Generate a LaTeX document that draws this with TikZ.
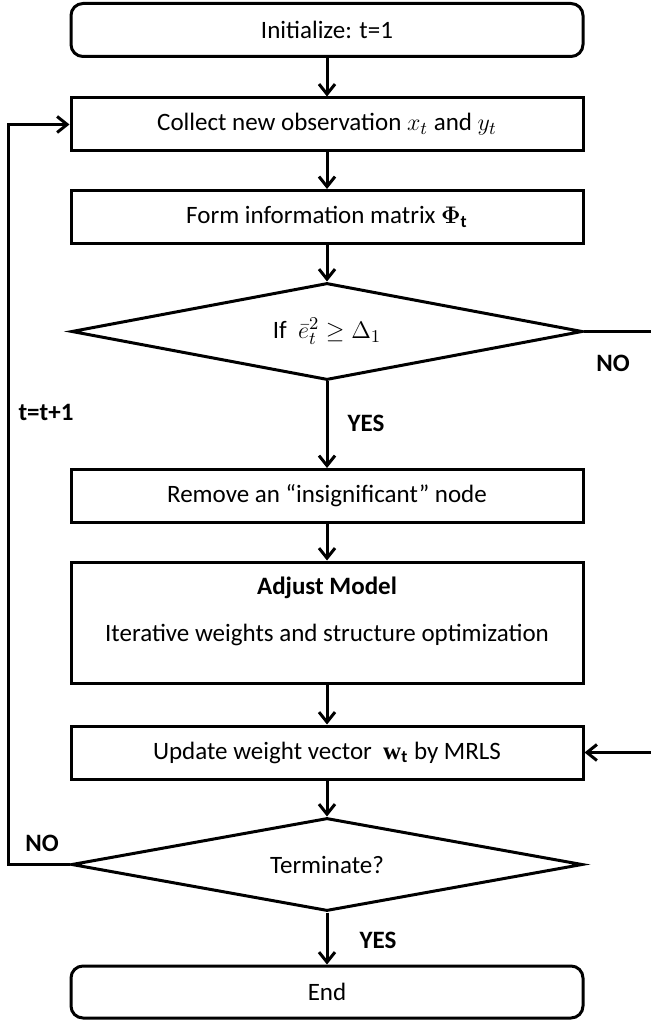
\documentclass[tikz,border=0pt]{standalone}
\usepackage{fontspec}
\setmainfont{Carlito}
\newfontfamily\vecfont{Liberation Serif}
\usepackage{amsmath}
\usepackage{bm}
\usetikzlibrary{shapes.geometric,arrows.meta}

\tikzset{
  stepbox/.style={draw, line width=1.5pt, minimum width=256pt, minimum height=26.5pt, inner sep=0pt},
  endbox/.style={stepbox, rounded corners=6pt},
  testbox/.style={draw, line width=1.5pt, shape=diamond, aspect=5.3, minimum width=255.5pt, inner sep=0pt},
  flow/.style={->, line width=1.5pt},
  lbl/.style={font=\fontsize{12.5}{15}\selectfont\bfseries}
}

\begin{document}
\begin{tikzpicture}[x=0.5pt, y=-0.5pt, >={Straight Barb[length=5pt,width=8pt]},
  every node/.style={font=\fontsize{12.5}{15}\selectfont}]

\useasboundingbox (0,0) rectangle (651,1020);

%% Start and first steps
\node [endbox] (init) at (327,30) {Initialize: t=1};
\node [stepbox] (collect) at (327,124.5) {Collect new observation $x_t$ and $y_t$};
\node [stepbox] (form) at (327,217) {Form information matrix $\bm{\Phi}_{\mathbf{t}}$};

%% First test
\node [testbox, minimum height=48.5pt] (cond) at (327,331.5) {If \ $\bar{e}_t^2 \geq \Delta_1$};

%% Model adjustment
\node [stepbox] (remove) at (327,496) {Remove an “insignificant” node};
\node [stepbox, minimum height=60.5pt] (adjust) at (327,622.5) {};
\node [lbl] (adjusttitle) at (327,588) {Adjust Model};
\node (adjusttext) at (327,635) {Iterative weights and structure optimization};

\node [stepbox] (update) at (327,752.5) {Update weight vector \ {\vecfont\bfseries w}$_{\mathbf{t}}$ by MRLS};

%% Second test and end
\node [testbox, minimum height=46.5pt] (term) at (327,864.5) {Terminate?};
\node [endbox, minimum height=26pt] (end) at (327,992) {End};

%% Straight arrows
\draw [flow] (init) -- (collect);
\draw [flow] (collect) -- (form);
\draw [flow] (form) -- (cond);
\draw [flow] (cond) -- (remove);
\draw [flow] (remove) -- (adjust);
\draw [flow] (adjust) -- (update);
\draw [flow] (update) -- (term);
\draw [flow] (term) -- (end);

%% Loops
\draw [flow] (cond.east) -- ++(68,0) |- (update.east);
\draw [flow] (term.west) -- ++(-62,0) |- (collect.west);

%% Labels
\node [lbl] (yes1) at (366,423) {YES};
\node [lbl] (yes2) at (378,940) {YES};
\node [lbl] (no1) at (613,363) {NO};
\node [lbl] (no2) at (42,843) {NO};
\node [lbl] (again) at (46,412) {t=t+1};

\end{tikzpicture}
\end{document}
